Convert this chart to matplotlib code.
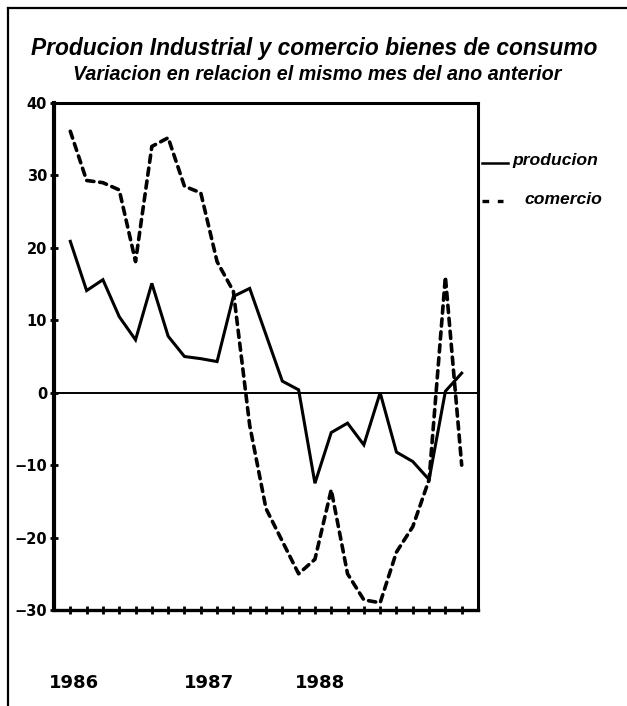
"""
Producion industrial y comercio de bienes de consumo, 1986-1988.
Variacion sobre el mismo mes del ano anterior (%).
"""

import matplotlib
matplotlib.use('Agg')
import matplotlib.pyplot as plt
from matplotlib.lines import Line2D
from matplotlib.transforms import blended_transform_factory

# monthly points along the x axis (ticks 1..25)
months = list(range(1, 26))

producion = [20.9, 14.1, 15.6, 10.5, 7.3, 15.1, 7.8, 5.0, 4.7, 4.3,
             13.3, 14.4, 8.0, 1.6, 0.4, -12.5, -5.5, -4.2, -7.2, 0.0,
             -8.2, -9.5, -12.0, 0.2, 2.7]
comercio = [36.1, 29.3, 29.0, 28.0, 18.1, 34.0, 35.2, 28.5, 27.6, 18.1,
            14.0, -4.5, -16.0, -20.5, -25.0, -23.0, -13.4, -25.0, -28.6, -29.0,
            -22.0, -18.5, -12.0, 16.0, -10.0]

y_ticks = [40, 30, 20, 10, 0, -10, -20, -30]
year_labels = ['1986', '1987', '1988']
year_pos = [1.2, 9.5, 16.3]

title = 'Producion Industrial y comercio bienes de consumo'
subtitle = 'Variacion en relacion el mismo mes del ano anterior'

W, H = 627, 706
fig = plt.figure(figsize=(W / 100, H / 100), dpi=100)
fig.patch.set_facecolor('white')

ax = fig.add_axes([54 / W, 1 - 610 / H, 424 / W, 507 / H])

ax.plot(months, producion, color='black', linewidth=2.2, solid_joinstyle='miter')
ax.plot(months, comercio, color='black', linewidth=2.6,
        linestyle=(0, (2.0, 1.6)), dash_capstyle='round')

ax.axhline(0, color='black', linewidth=1.4)

ax.set_xlim(0, 26)
ax.set_ylim(-30, 40)
ax.set_xticks(months)
ax.set_xticklabels([])
ax.set_yticks(y_ticks)
ax.set_yticklabels([str(v).replace('-', '\u2212') for v in y_ticks],
                   fontsize=10.5, fontweight='heavy')

ax.tick_params(axis='x', direction='inout', length=6, width=2)
ax.tick_params(axis='y', direction='inout', length=6, width=2, pad=2)

for side, lw in [('left', 3.0), ('bottom', 2.4), ('top', 2.2), ('right', 2.2)]:
    ax.spines[side].set_linewidth(lw)

# year labels under the axis: x in data units, y in figure units
year_tr = blended_transform_factory(ax.transData, fig.transFigure)
for pos, lab in zip(year_pos, year_labels):
    ax.text(pos, 1 - 683 / H, lab, transform=year_tr,
            fontsize=13, fontweight='bold', ha='center', va='center')

# titles
fig.text(314 / W, 1 - 49 / H, title, fontsize=16.4, fontweight='heavy',
         style='italic', family='Liberation Sans', ha='center', va='center')
fig.text(317 / W, 1 - 75 / H, subtitle, fontsize=14.2, fontweight='heavy',
         style='italic', family='Liberation Sans', ha='center', va='center')

# legend drawn by hand to the right of the axes
fig.add_artist(Line2D([482 / W, 508 / W], [1 - 163 / H] * 2,
                      color='black', linewidth=1.8, transform=fig.transFigure))
fig.add_artist(Line2D([482 / W, 503 / W], [1 - 201 / H] * 2,
                      color='black', linewidth=2.4, linestyle=(0, (2.0, 2.6)),
                      transform=fig.transFigure))
fig.text(512 / W, 1 - 160 / H, 'producion', fontsize=12.6, fontweight='heavy',
         style='italic', family='Liberation Sans', ha='left', va='center')
fig.text(524 / W, 1 - 199 / H, 'comercio', fontsize=12.6, fontweight='heavy',
         style='italic', family='Liberation Sans', ha='left', va='center')

# page frame (left and top edges)
fig.add_artist(Line2D([8 / W, 8 / W], [0, 1 - 8 / H], color='black',
                      linewidth=1.6, transform=fig.transFigure))
fig.add_artist(Line2D([8 / W, 1], [1 - 8 / H] * 2, color='black',
                      linewidth=1.6, transform=fig.transFigure))

fig.savefig('out.png', dpi=100)
